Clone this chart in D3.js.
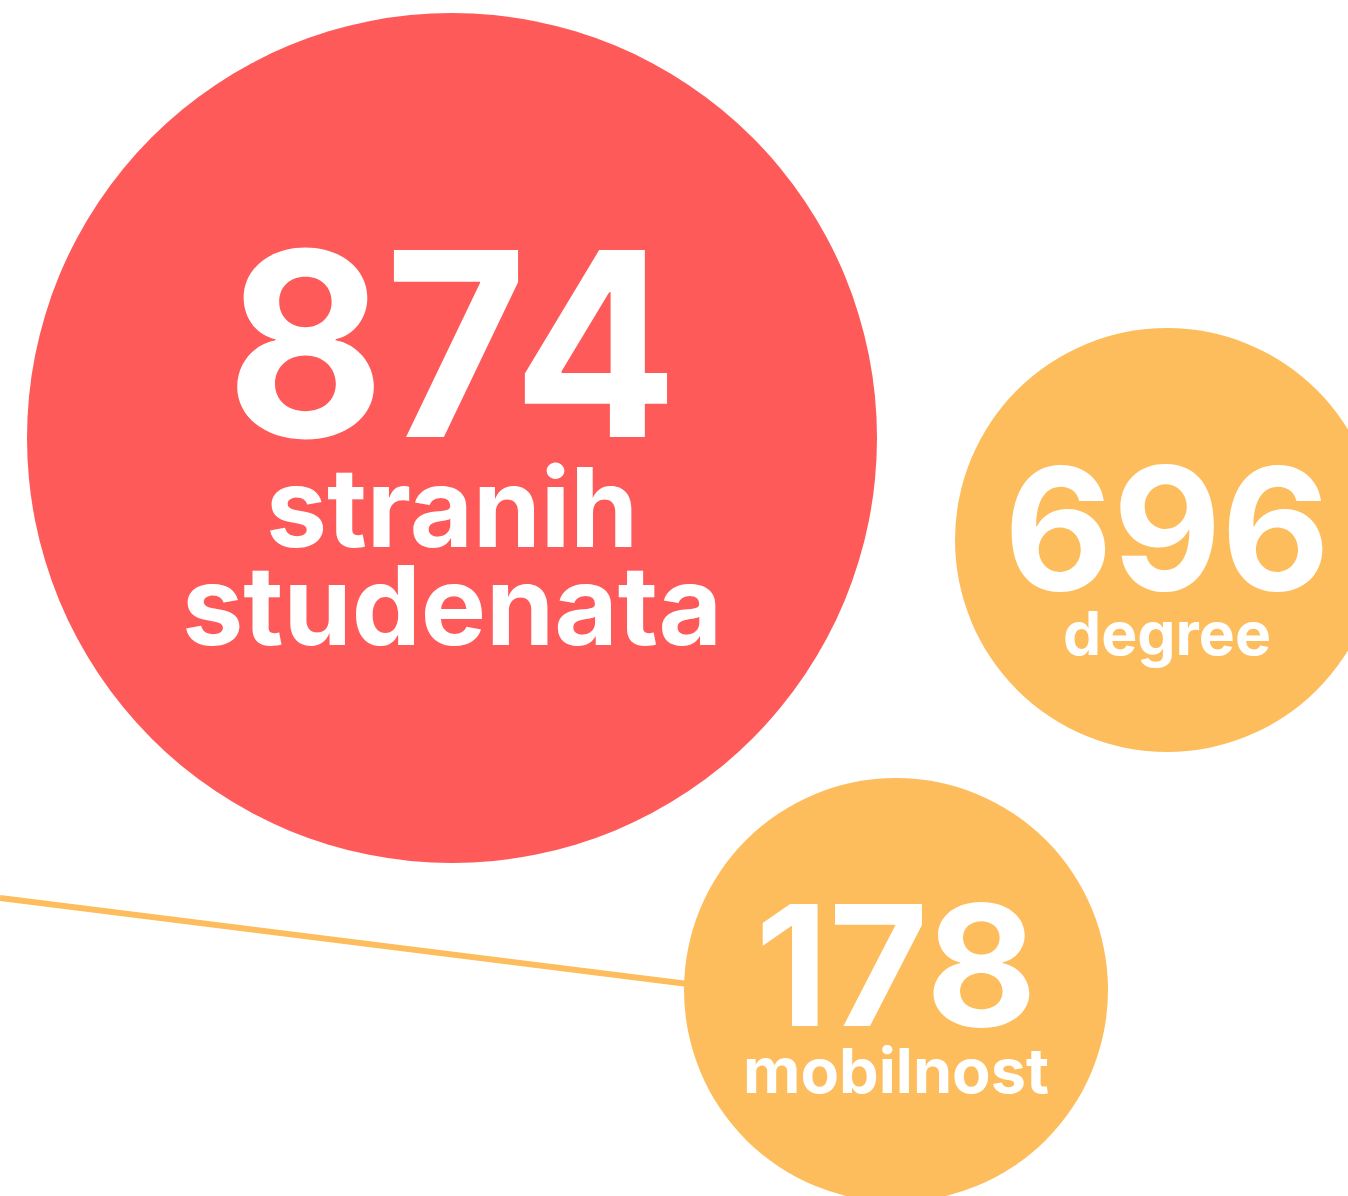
<!DOCTYPE html>
<html><head><meta charset="utf-8">
<script src="https://cdn.jsdelivr.net/npm/d3@7"></script>
<style>html,body{margin:0;padding:0;background:#fff;overflow:hidden}</style>
</head><body>
<svg id="c" width="1348" height="1196"></svg>
<script>
const values = [874, 696, 178];
const labels = [["stranih", "studenata"], ["degree"], ["mobilnost"]];
const groups = ["total", "degree", "mobility"];

// layout (positions / sizes / styles)
const layout = [
  {cx: 452, cy: 438, r: 425, fill: "#FF5A5A", numY: 437, numSize: 257, numW: 452,
   lab: [{y: 547, size: 110, w: 372}, {y: 645, size: 110, w: 540}]},
  {cx: 1167, cy: 540, r: 212, fill: "#FDBD5C", numY: 590, numSize: 170, numW: 326,
   lab: [{y: 655, size: 60, w: 208}]},
  {cx: 896, cy: 990, r: 212, fill: "#FDBD5C", numY: 1026, numSize: 168, numW: 282,
   lab: [{y: 1093, size: 62, w: 306}]}
];
const linkLine = {x1: 0, y1: 898, x2: 688, y2: 984, stroke: "#FDBD5C", width: 6};

const svg = d3.select("#c");
const font = "Inter, 'Open Sans', sans-serif";

svg.append("line")
  .attr("x1", linkLine.x1).attr("y1", linkLine.y1)
  .attr("x2", linkLine.x2).attr("y2", linkLine.y2)
  .attr("stroke", linkLine.stroke).attr("stroke-width", linkLine.width);

const data = values.map((v, i) => ({value: v, label: labels[i], group: groups[i], ...layout[i]}));

const g = svg.selectAll("g.bubble").data(data).join("g").attr("class", "bubble");
g.append("circle")
  .attr("cx", d => d.cx).attr("cy", d => d.cy).attr("r", d => d.r)
  .attr("fill", d => d.fill);

g.append("text")
  .attr("x", d => d.cx).attr("y", d => d.numY)
  .attr("text-anchor", "middle")
  .attr("font-family", font).attr("font-weight", 700)
  .attr("font-size", d => d.numSize)
  .attr("fill", "#fff")
  .attr("textLength", d => d.numW).attr("lengthAdjust", "spacingAndGlyphs")
  .text(d => d.value);

g.each(function(d) {
  d3.select(this).selectAll("text.lab").data(d.label.map((t, j) => ({t, ...d.lab[j], cx: d.cx})))
    .join("text").attr("class", "lab")
    .attr("x", e => e.cx).attr("y", e => e.y)
    .attr("text-anchor", "middle")
    .attr("font-family", font).attr("font-weight", 700)
    .attr("font-size", e => e.size)
    .attr("fill", "#fff")
    .attr("textLength", e => e.w).attr("lengthAdjust", "spacingAndGlyphs")
    .text(e => e.t);
});
</script>
</body></html>
